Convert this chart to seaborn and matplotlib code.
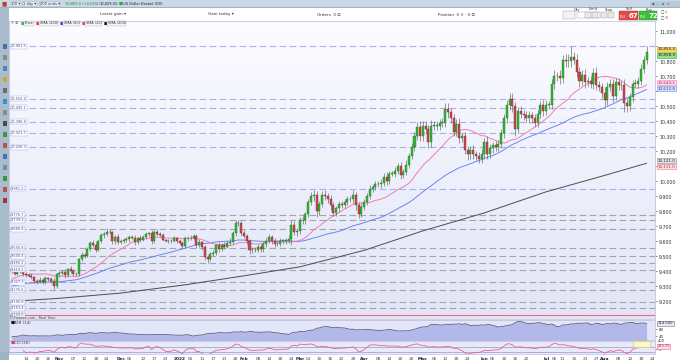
import numpy as np
import pandas as pd
import matplotlib
matplotlib.use("Agg")
import matplotlib.pyplot as plt
from matplotlib.patches import Rectangle
from matplotlib.colors import LinearSegmentedColormap
from matplotlib.ticker import FuncFormatter
import seaborn as sns

# ---------------- data (US Dollar Basket, 1 day) ----------------
# closes before the first visible bar, only used to seed the moving averages
pre_close = [9220,
             9205, 9200, 9230, 9225, 9280, 9295, 9305, 9310, 9295, 9250,
             9260, 9265, 9315, 9355, 9350, 9330, 9300, 9300, 9285, 9265,
             9270, 9265,
             9250, 9220, 9215, 9250, 9255, 9270, 9255, 9260, 9265, 9260, 9300, 9320, 9330,
             9325, 9330, 9345, 9315, 9330, 9340, 9390, 9435, 9430,
             9405, 9395, 9395, 9410]

first_day = "2021-10-07"
c_oct = [9400, 9385, 9405, 9420, 9385, 9375, 9370, 9360, 9335, 9330, 9345, 9330, 9355, 9350, 9335, 9300, 9380]
c_nov = [9390, 9395, 9375, 9415, 9400, 9385, 9380, 9480, 9510, 9505, 9550, 9590, 9575, 9545, 9600,
         9640, 9650, 9665, 9660, 9600, 9630, 9595]
c_dec = [9600, 9610, 9615, 9630, 9625, 9595, 9620, 9610, 9630, 9650, 9655, 9600, 9665, 9650, 9645,
         9610, 9605, 9600, 9605, 9620, 9600, 9590, 9570]
c_jan = [9620, 9625, 9620, 9635, 9575, 9595, 9560, 9495, 9480, 9515, 9525, 9575, 9550, 9575, 9565,
         9590, 9595, 9655, 9720, 9725, 9655]
c_feb = [9635, 9600, 9540, 9545, 9540, 9560, 9550, 9580, 9605, 9630, 9605, 9580, 9585, 9605, 9605,
         9605, 9615, 9710, 9660, 9670]
c_mar = [9740, 9740, 9780, 9860, 9900, 9910, 9800, 9850, 9910, 9900, 9880, 9840, 9790, 9820, 9850,
         9840, 9865, 9880, 9880, 9910, 9840, 9780, 9830]
c_apr = [9860, 9900, 9950, 9960, 9980, 9980, 9990, 10030, 10000, 10050, 10050, 10070, 10100, 10040,
         10060, 10110, 10170, 10230, 10300, 10360, 10300]
c_may = [10370, 10350, 10260, 10370, 10370, 10370, 10390, 10390, 10485, 10460, 10420, 10330, 10380,
         10290, 10300, 10210, 10180, 10210, 10180, 10170, 10150, 10180]
c_jun = [10260, 10180, 10220, 10240, 10230, 10250, 10320, 10420, 10510, 10550, 10500, 10350, 10470,
         10450, 10440, 10420, 10440, 10420, 10390, 10450, 10510, 10470]
c_jul = [10510, 10510, 10650, 10700, 10700, 10690, 10810, 10800, 10800, 10830, 10810, 10730, 10670,
         10710, 10660, 10670, 10650, 10720, 10640, 10630, 10590]
c_aug = [10540, 10630, 10650, 10570, 10660, 10640, 10640, 10520, 10500, 10560, 10650, 10650, 10670,
         10750, 10810, 10862]

# wick lengths above / below the candle body (points)
up_wick = [12, 15, 10, 18, 14, 9, 12, 16, 10, 12, 15, 11, 13, 10, 14, 18, 9,
           12, 16, 20, 10, 22, 14, 11, 12, 18, 14, 15, 12, 16, 20, 10, 14, 12, 25, 18, 10, 15, 20,
           14, 12, 16, 10, 15, 18, 12, 20, 11, 14, 10, 22, 12, 15, 10, 14, 9, 8, 10, 16, 12, 14, 10,
           18, 14, 20, 12, 15, 22, 10, 14, 16, 12, 18, 10, 22, 14, 20, 15, 25, 16, 22, 18, 14,
           20, 12, 16, 18, 14, 20, 22, 15, 18, 20, 14, 16, 18, 20, 12, 15, 25, 30, 28, 20,
           25, 30, 18, 22, 30, 35, 28, 20, 24, 30, 22, 26, 20, 18, 22, 20, 18, 25, 22, 30, 20, 25, 28,
           22, 20, 25, 18, 22, 20, 26, 24, 30, 18, 22, 24, 20, 28, 22, 30, 20, 25, 28, 35, 40,
           30, 35, 28, 40, 30, 32, 25, 30, 40, 35, 28, 30, 35, 40, 25, 30, 28, 26, 30, 22, 25, 35,
           30, 40, 28, 25, 30, 26, 28, 30, 35, 40, 38, 30, 28, 35, 25, 30, 28, 25, 30, 28, 25, 35,
           30, 28, 35, 40, 30, 45, 35, 40, 50, 75, 30, 40, 35, 30, 38, 28, 30, 35, 40, 30, 28,
           40, 30, 35, 30, 32, 28, 30, 45, 35, 30, 28, 30, 25, 30, 28, 38]
dn_wick = [14, 10, 12, 15, 18, 12, 10, 14, 16, 12, 10, 14, 12, 15, 10, 20, 12,
           15, 12, 18, 10, 14, 16, 12, 10, 14, 18, 12, 15, 14, 18, 12, 10, 15, 12, 14, 20, 16, 12,
           15, 12, 14, 16, 10, 20, 12, 14, 10, 12, 16, 18, 14, 12, 15, 10, 12, 8, 10, 12, 14, 10, 16,
           12, 15, 14, 10, 18, 16, 20, 18, 25, 14, 12, 15, 18, 14, 16, 12, 15, 14, 18, 16, 22,
           15, 18, 22, 16, 14, 12, 18, 20, 16, 14, 20, 18, 14, 16, 20, 22, 18, 40, 20, 22,
           20, 25, 22, 18, 20, 28, 40, 22, 20, 25, 22, 30, 24, 20, 22, 18, 20, 22, 18, 24, 28, 25, 20,
           24, 18, 20, 22, 18, 20, 22, 20, 24, 18, 15, 20, 22, 25, 20, 18, 22, 20, 24, 22, 30,
           28, 30, 40, 30, 25, 28, 30, 26, 30, 35, 30, 28, 30, 35, 28, 30, 35, 28, 30, 25, 30, 26,
           28, 30, 25, 28, 26, 30, 28, 30, 32, 35, 40, 45, 30, 28, 30, 26, 30, 28, 30, 25, 30, 35,
           30, 26, 30, 35, 28, 40, 35, 38, 40, 35, 30, 35, 40, 30, 35, 28, 30, 32, 28, 30, 35,
           35, 30, 28, 40, 30, 28, 30, 60, 35, 30, 28, 30, 25, 28, 30, 25]

# 200-day average, read at a few dates
sma200_dates = ["2021-10-07", "2021-11-01", "2021-12-01", "2022-01-03", "2022-02-01", "2022-03-01",
                "2022-04-01", "2022-05-02", "2022-06-01", "2022-07-01", "2022-08-01", "2022-08-22"]
sma200_vals = [9200, 9220, 9255, 9310, 9370, 9430, 9540, 9670, 9790, 9930, 10040, 10121]

# horizontal support / resistance levels
blue_levels = [10901.5, 10552.4, 10492.1, 10396.8, 10321.7, 10226.3, 9951.2]
grey_levels = [9776.7, 9739.3, 9680.4, 9556.8, 9500.4, 9455.2, 9410.5, 9327.3, 9276.6, 9192.8, 9153.4]
red_level = 9109.0

# bottom axis: where each label sits and its text
tick_dates = ["2021-10-14", "2021-10-20", "2021-10-26", "2021-11-01", "2021-11-07", "2021-11-12",
              "2021-11-18", "2021-11-24", "2021-12-01", "2021-12-06", "2021-12-12", "2021-12-17",
              "2021-12-23", "2021-12-30", "2022-01-05", "2022-01-11", "2022-01-17", "2022-01-21",
              "2022-01-27", "2022-02-01", "2022-02-08", "2022-02-14", "2022-02-18", "2022-02-24",
              "2022-03-01", "2022-03-04", "2022-03-10", "2022-03-16", "2022-03-22", "2022-03-28",
              "2022-04-01", "2022-04-08", "2022-04-14", "2022-04-20", "2022-04-26", "2022-05-02",
              "2022-05-06", "2022-05-12", "2022-05-18", "2022-05-24", "2022-06-01", "2022-06-06",
              "2022-06-10", "2022-06-16", "2022-06-22", "2022-07-01", "2022-07-06", "2022-07-11",
              "2022-07-15", "2022-07-21", "2022-07-27", "2022-08-01", "2022-08-08", "2022-08-12",
              "2022-08-18", "2022-08-24"]
tick_labels = ["14", "20", "26", "Nov", "07", "12", "18", "24", "Dec", "06", "12", "17", "23", "2022",
               "05", "11", "17", "21", "28", "Feb", "08", "14", "18", "24", "Mar", "04", "10", "16",
               "22", "28", "Apr", "08", "14", "20", "26", "May", "06", "12", "18", "24", "Jun", "06",
               "10", "16", "22", "Jul", "06", "11", "15", "21", "27", "Aug", "08", "12", "18", "24"]
month_labels = {"Nov", "Dec", "2022", "Feb", "Mar", "Apr", "May", "Jun", "Jul", "Aug"}

quote_bid, quote_ask = "10,855.5", "10,858.5"
hidden_price_ticks = {10900, 10600, 10100}   # covered by the value tags in the original

# ---------------- derived series ----------------
close = np.array(c_oct + c_nov + c_dec + c_jan + c_feb + c_mar + c_apr + c_may + c_jun + c_jul + c_aug,
                 dtype=float)
n = len(close)
x = np.arange(n)
open_ = np.r_[pre_close[-1], close[:-1]]
high = np.maximum(open_, close) + np.array(up_wick[:n])
low = np.minimum(open_, close) - np.array(dn_wick[:n])

allc = pd.Series(pre_close + list(close))
sma20 = allc.rolling(20).mean().to_numpy()[len(pre_close):]
sma50 = allc.rolling(50).mean().to_numpy()[len(pre_close):]
d0 = np.datetime64(first_day)
sma200_x = np.busday_count(d0, np.array(sma200_dates, dtype="datetime64[D]"))

tr = np.maximum(high - low, np.maximum(np.abs(high - open_), np.abs(low - open_)))
atr = pd.Series(tr).rolling(14, min_periods=1).mean().to_numpy()
tp = pd.Series((high + low + close) / 3)
tp_ma = tp.rolling(20, min_periods=5).mean()
tp_md = tp.rolling(20, min_periods=5).apply(lambda v: np.mean(np.abs(v - v.mean())), raw=True)
cci = ((tp - tp_ma) / (0.015 * tp_md)).to_numpy()

tick_x = np.busday_count(d0, np.array(tick_dates, dtype="datetime64[D]"))

# ---------------- figure ----------------
sns.set_theme(style="white")
plt.rcParams["font.family"] = ["DejaVu Sans"]

W, H = 680, 360
fig = plt.figure(figsize=(6.8, 3.6), dpi=100, facecolor="white")


def fx(px):
    return px / W


def fy(py):
    return 1 - py / H


def add_ax(x0, y0, x1, y1):
    return fig.add_axes([fx(x0), fy(y1), fx(x1) - fx(x0), fy(y0) - fy(y1)])


def box(x0, y0, x1, y1, fc, ec="none", lw=0.4, z=0):
    fig.patches.append(Rectangle((fx(x0), fy(y1)), fx(x1) - fx(x0), fy(y0) - fy(y1),
                                 transform=fig.transFigure, fc=fc, ec=ec, lw=lw, zorder=z))


def label(px, py, s, size=3.3, color="#333333", **kw):
    fig.text(fx(px), fy(py), s, fontsize=size, color=color, va="center", **kw)


XL = (-1, 230)
ax = add_ax(9, 21, 655, 319)
ax_atr = add_ax(9, 320, 655, 339.5)
ax_cci = add_ax(9, 340.5, 655, 353.5)

# ---- main price panel ----
ylo, yhi = 9082, 11070
bg = LinearSegmentedColormap.from_list("bg", ["#fcfcff", "#eef0fb", "#e1e5f7"])
ax.imshow(np.linspace(0, 1, 256).reshape(-1, 1), cmap=bg, aspect="auto",
          extent=[XL[0], XL[1], ylo, yhi], origin="upper", zorder=0)

for v in grey_levels:
    ax.axhline(v, color="#a3a3a8", lw=0.8, ls=(0, (6, 3)), zorder=1)
for v in blue_levels:
    ax.axhline(v, color="#aab0ec", lw=0.8, ls=(0, (6, 3)), zorder=1)
ax.axhline(red_level, color="#e86a78", lw=0.8, zorder=1)

trans = ax.get_yaxis_transform()
for v in blue_levels + grey_levels + [red_level]:
    ax.text(0.003, v, f"{v:,.1f}", transform=trans, fontsize=2.5, color="#4a4f8a",
            ha="left", va="center", zorder=6,
            bbox=dict(boxstyle="square,pad=0.12", fc="white", ec="#a9aee6", lw=0.35))

sns.lineplot(x=sma200_x, y=sma200_vals, ax=ax, color="#4d4d4d", lw=0.7, legend=False, zorder=2)
sns.lineplot(x=x, y=sma50, ax=ax, color="#6e86ee", lw=0.7, legend=False, zorder=2)
sns.lineplot(x=x, y=sma20, ax=ax, color="#f07fae", lw=0.7, legend=False, zorder=2)

up = close >= open_
body_lo = np.minimum(open_, close)
body_h = np.maximum(np.abs(close - open_), 4)
ax.vlines(x, low, high, color="#707070", lw=0.5, zorder=3)
ax.bar(x[up], body_h[up], bottom=body_lo[up], width=0.72, color="#34b534",
       edgecolor="#237a23", lw=0.3, zorder=4)
ax.bar(x[~up], body_h[~up], bottom=body_lo[~up], width=0.72, color="#c44c4c",
       edgecolor="#7e2c2c", lw=0.3, zorder=4)

ax.set_xlim(*XL)
ax.set_ylim(ylo, yhi)
ax.set_xticks([])
ax.yaxis.tick_right()
ax.set_yticks(np.arange(9200, 11001, 100))
ax.yaxis.set_major_formatter(FuncFormatter(
    lambda v, p: "" if int(round(v)) in hidden_price_ticks else f"{v:,.0f}"))
ax.tick_params(axis="y", labelsize=3.4, length=1.5, width=0.4, pad=1.5, colors="#333333")


def tag(axx, val, text, fc, ec, tc="#222222", size=3.0):
    axx.text(1.004, val, text, transform=axx.get_yaxis_transform(), ha="left", va="center",
             fontsize=size, color=tc, zorder=10, clip_on=False,
             bbox=dict(boxstyle="square,pad=0.15", fc=fc, ec=ec, lw=0.4))


tag(ax, close[-1] + 18, quote_bid, "#f3d35a", "#c9a92a")
tag(ax, close[-1] - 22, quote_ask, "#8ee08e", "#48a848")
ma_top = max(sma20[-1], sma50[-1]) + 14
tag(ax, ma_top, f"{sma20[-1]:,.1f}", "#fbd6e6", "#ef8ab4", "#c03070")
tag(ax, ma_top - 40, f"{sma50[-1]:,.1f}", "#d8def9", "#7088ee", "#3050c0")
tag(ax, sma200_vals[-1] + 16, f"{sma200_vals[-1]:,.1f}", "#e4e4e4", "#888888")
tag(ax, sma200_vals[-1] - 24, f"{sma200_vals[-1] - 10:,.1f}", "#fbdde3", "#e88090", "#c03050")

# ---- ATR panel ----
ax_atr.set_facecolor("#e3e6f8")
ax_atr.fill_between(x, 0, atr, color="#b3b8ea", lw=0, zorder=1)
sns.lineplot(x=x, y=atr, ax=ax_atr, color="#5d5f7e", lw=0.6, legend=False, zorder=2)
ax_atr.set_xlim(*XL)
ax_atr.set_ylim(20, 135)
ax_atr.set_xticks([])
ax_atr.yaxis.tick_right()
ax_atr.set_yticks([80, 40])
ax_atr.tick_params(axis="y", labelsize=2.8, length=1.2, width=0.4, pad=1.5, colors="#333333")
tag(ax_atr, atr[-1], f"{atr[-1]:.3f}", "#e8e8f4", "#70709a", size=2.7)

# ---- CCI panel ----
ax_cci.set_facecolor("#e8eafa")
for v in (100, -100):
    ax_cci.axhline(v, color="#9ea5e4", lw=0.6, zorder=1)
sns.lineplot(x=x, y=cci, ax=ax_cci, color="#e65f9c", lw=0.6, legend=False, zorder=2)
ax_cci.add_patch(Rectangle((0.966, 0.5), 0.026, 0.46, transform=ax_cci.transAxes,
                           fc="#fbf8cc", ec="#d5d36a", lw=0.5, zorder=3))
ax_cci.set_xlim(*XL)
ax_cci.set_ylim(-180, 360)
ax_cci.yaxis.tick_right()
ax_cci.set_yticks([0])
ax_cci.tick_params(axis="y", labelsize=2.6, length=1.2, width=0.4, pad=1.5, colors="#333333")
ax_cci.text(1.004, 1.0, "400", transform=ax_cci.transAxes, fontsize=2.6, color="#333333",
            ha="left", va="center", clip_on=False)
tag(ax_cci, 120, f"{cci[-1]:.2f}", "#fbdde8", "#e65f9c", "#c02060", size=2.5)
ax_cci.set_xticks(tick_x)
ax_cci.set_xticklabels(tick_labels)
ax_cci.tick_params(axis="x", labelsize=3.1, length=1.2, width=0.4, pad=1.0, colors="#444444")
for t in ax_cci.get_xticklabels():
    if t.get_text() in month_labels:
        t.set_fontweight("bold")
        t.set_color("#222244")

for a in (ax, ax_atr, ax_cci):
    for s in a.spines.values():
        s.set_color("#b9bdd9")
        s.set_linewidth(0.5)

# ---------------- platform chrome ----------------
box(0, 0, 680, 8, "#c9d8e6")
box(0, 7.4, 680, 8, "#9fb3c6")
box(0, 8, 9, 360, "#a9bccb")
box(655, 21, 656, 354, "#c8ccdf")

label(2, 4, "■", 4, "#c0392b")
for px, s in [(12, "DX ▾"), (23, "1 day ▾"), (40, "200 units ▾")]:
    label(px, 4, s, 2.6, "#222222",
          bbox=dict(boxstyle="square,pad=0.12", fc="#f4f7fa", ec="#8fa2b5", lw=0.3))
label(65, 4, "10,855.5 (+0.66%)", 2.6, "#1b8e1b")
label(100, 4, "10,829.50", 2.6, "#222222")
label(119, 4, "■", 3.0, "#2ea043")
label(123, 4, "US Dollar Basket (DX)", 2.6, "#222222")
box(650, 1, 680, 7, "#b8c9d9")
label(652, 4, "▪  –  ▫  ×", 2.8, "#555555")

label(100, 14.5, "Latest gain ▾", 3.0)
label(208, 14.5, "Gain today ▾", 3.0)
label(317, 14.5, "Orders  0 ⊡", 3.0)
label(438, 14.5, "Position  0 ✕ · 0 ⊡", 3.0)
for px, s in [(574, "Qty"), (589, "Limit"), (605, "Stop"), (626, "Sell"), (646, "Buy")]:
    label(px, 9.5, s, 2.6, "#333333")
box(563, 11, 575, 19, "#f2f2f2", "#9a9a9a", 0.3)
box(577, 12, 600, 18, "white", "#9a9a9a", 0.3)
for px in (585, 592, 601, 608):
    box(px, 12, px + 6, 18, "#e8e8e8", "#9a9a9a", 0.3)
box(619, 11.5, 638, 20, "#e04b4b", "#b02a2a", 0.3)
box(639, 11.5, 657, 20, "#3cbf3c", "#1f8a1f", 0.3)
label(620, 17, "10,8", 2.0, "white")
label(628.5, 15.8, "67", 5.0, "white", fontweight="bold")
label(640, 17, "10,8", 2.0, "white")
label(648.5, 15.8, "72", 5.0, "white", fontweight="bold")
label(661, 11, "□ L", 2.6, "#444444")
label(661, 17, "□ S", 2.6, "#444444")

# left toolbar icons
icon_cols = ["#4a6fa5", "#8a8a8a", "#5c7fb3", "#d9a429", "#6c6c6c", "#3b8ed0", "#8a8a8a",
             "#4a4a4a", "#3a9a3a", "#c0504d", "#4a6fa5", "#7a8a9a", "#3a9a3a", "#c0504d", "#b03030"]
for i, c in enumerate(icon_cols):
    yy = 44 + i * 11
    box(2.5, yy, 7, yy + 4.5, c)

# legend row of the price panel
label(11, 23.5, "✕ ⊕", 2.6, "#555555")
legend_items = [(21, "Price", "#34b534"), (36, "SMA (200)", "#e04040"), (60, "SMA (50)", "#3050e0"),
                (82, "SMA (20)", "#e0406f"), (104, "SMA (200)", "#111111")]
for px, s, c in legend_items:
    label(px, 23.5, "■", 3.0, c)
    label(px + 3.6, 23.5, s, 2.5, "#333333",
          bbox=dict(boxstyle="square,pad=0.1", fc="#f4f4f8", ec="#b0b0c0", lw=0.3))

label(10, 318.4, "IT-Finance.com - Real Time", 2.4, "#444444")
label(10.5, 323, "■", 3.0, "#111111")
label(14, 323, "ATR (14)", 2.8, "#333333")
label(10.5, 343, "■", 3.0, "#e0406f")
label(14, 343, "CCI (20)", 2.8, "#333333")
box(0, 352, 9, 360, "#9fb3c6")

fig.savefig("out.png", dpi=100, facecolor="white")
